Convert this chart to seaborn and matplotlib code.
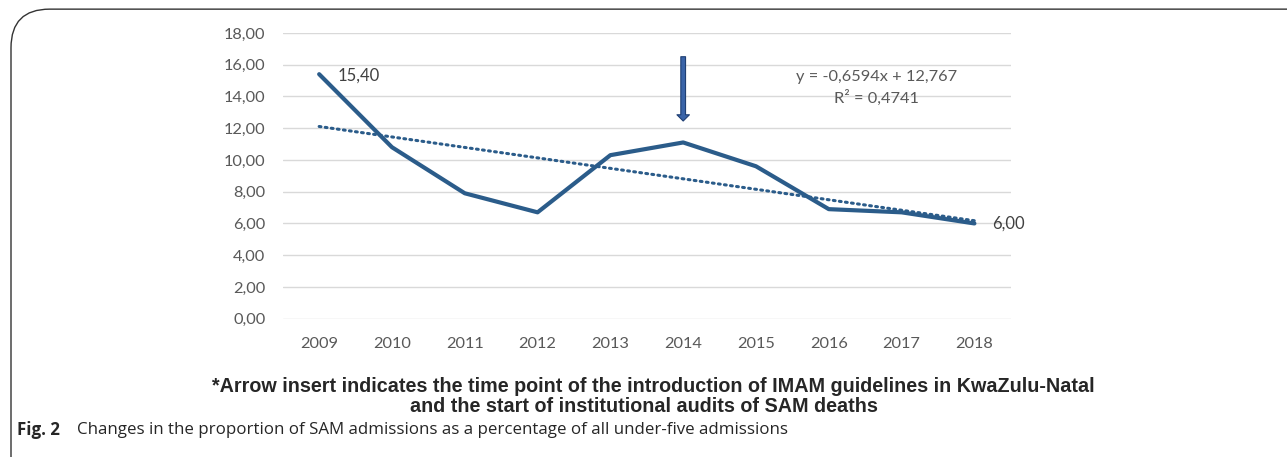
import matplotlib
matplotlib.use("Agg")
import matplotlib.pyplot as plt
import seaborn as sns
import pandas as pd
from matplotlib.patches import FancyBboxPatch
from matplotlib.ticker import FuncFormatter

YEARS = [2009, 2010, 2011, 2012, 2013, 2014, 2015, 2016, 2017, 2018]
SAM_PCT = [15.40, 10.80, 7.90, 6.70, 10.30, 11.10, 9.60, 6.90, 6.70, 6.00]
Y_TICKS = [0, 2, 4, 6, 8, 10, 12, 14, 16, 18]
ARROW_YEAR = 2014
EQUATION = "y = -0,6594x + 12,767"
R_SQUARED = "R² = 0,4741"
NOTE_1 = "*Arrow insert indicates the time point of the introduction of IMAM guidelines in KwaZulu-Natal"
NOTE_2 = "and the start of institutional audits of SAM deaths"
CAPTION_BOLD = "Fig. 2"
CAPTION = "Changes in the proportion of SAM admissions as a percentage of all under-five admissions"

LINE_COLOR = "#2B5C8A"
TICK_COLOR = "#595959"

sns.set_style("white")
plt.rcParams["font.family"] = ["Lato", "DejaVu Sans"]

df = pd.DataFrame({"year": YEARS, "pct": SAM_PCT})

fig = plt.figure(figsize=(12.87, 4.57), dpi=100)
ax = fig.add_axes([0.2197, 0.3026, 0.5657, 0.6254])

# frame around the figure, like the journal's box
fig.patches.append(FancyBboxPatch((11 / 1287, -0.2), 1.2, 1.18,
                                  boxstyle="round,pad=0,rounding_size=0.03",
                                  transform=fig.transFigure, fill=False,
                                  ec="#333333", lw=1.0, mutation_aspect=1287 / 457))

sns.regplot(data=df, x="year", y="pct", ax=ax, scatter=False, ci=None,
            line_kws={"color": LINE_COLOR, "linestyle": (0, (0.6, 1.4)), "lw": 2.2,
                      "dash_capstyle": "round"})
sns.lineplot(data=df, x="year", y="pct", ax=ax, color=LINE_COLOR, lw=3.0)

ax.set_xlim(YEARS[0] - 0.5, YEARS[-1] + 0.5)
ax.set_ylim(Y_TICKS[0], Y_TICKS[-1])
ax.set_xticks(YEARS)
ax.set_yticks(Y_TICKS)
ax.yaxis.set_major_formatter(FuncFormatter(lambda v, p: f"{v:.2f}".replace(".", ",")))
ax.grid(axis="y", color="#d9d9d9", lw=1.0)
ax.grid(axis="x", visible=False)
for s in ax.spines.values():
    s.set_visible(False)
ax.tick_params(axis="both", length=0, labelsize=11.8, labelcolor=TICK_COLOR)
ax.tick_params(axis="y", pad=12.5)
ax.tick_params(axis="x", pad=13.5)
ax.set_xlabel("")
ax.set_ylabel("")

# data labels at both ends
ax.annotate(f"{SAM_PCT[0]:.2f}".replace(".", ","), (YEARS[0], SAM_PCT[0]),
            xytext=(13, -1), textcoords="offset points", ha="left", va="center",
            fontsize=12, color="#404040")
ax.annotate(f"{SAM_PCT[-1]:.2f}".replace(".", ","), (YEARS[-1], SAM_PCT[-1]),
            xytext=(13, 0), textcoords="offset points", ha="left", va="center",
            fontsize=12, color="#404040")

# arrow marking 2014
ax.annotate("", xy=(ARROW_YEAR, 12.45), xytext=(ARROW_YEAR, 16.5),
            arrowprops=dict(width=3.4, headwidth=9.0, headlength=4.5,
                            fc="#3A64A8", ec="#1F3F73", lw=0.8, shrink=0))

# trend line equation
ax.text(0.815, 0.808, EQUATION + "\n" + R_SQUARED, transform=ax.transAxes,
        ha="center", va="center", fontsize=11.8, color=TICK_COLOR, linespacing=1.4)

fig.text(653 / 1287, 1 - 386 / 457, NOTE_1, ha="center", va="center",
         fontsize=14.2, fontweight="bold", family="Liberation Sans")
fig.text(644 / 1287, 1 - 407 / 457, NOTE_2, ha="center", va="center",
         fontsize=14.2, fontweight="bold", family="Liberation Sans")

fig.text(17 / 1287, 1 - 430 / 457, CAPTION_BOLD, ha="left", va="center",
         fontsize=12.2, fontweight="bold", family="Open Sans")
fig.text(77 / 1287, 1 - 430 / 457, CAPTION, ha="left", va="center",
         fontsize=12.2, family="Open Sans")

fig.savefig("out.png", dpi=100)
